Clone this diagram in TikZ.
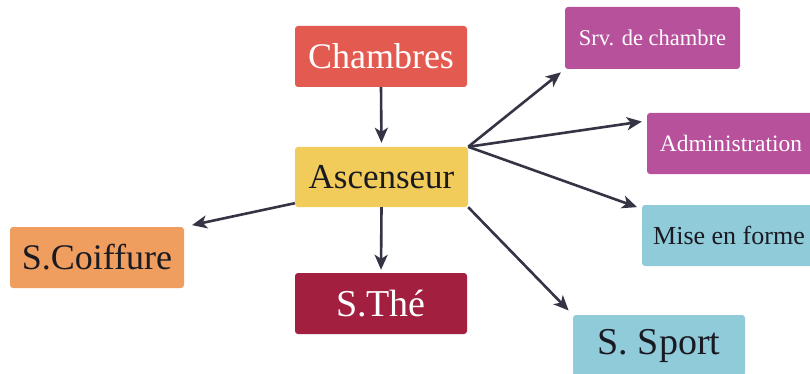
\documentclass[tikz,border=0pt]{standalone}
\usepackage{fontspec}
\setmainfont{Liberation Serif}
\usetikzlibrary{arrows.meta,calc}
\definecolor{cRed}{HTML}{E35A50}
\definecolor{cYellow}{HTML}{F2CC5A}
\definecolor{cMagenta}{HTML}{B8519B}
\definecolor{cBlue}{HTML}{90CBDA}
\definecolor{cOrange}{HTML}{EF9E5F}
\definecolor{cCrimson}{HTML}{A31F3F}
\definecolor{cArrow}{HTML}{343444}
\definecolor{cDark}{HTML}{1A1A22}
\begin{document}
\begin{tikzpicture}[x=1pt,y=-1pt,
  box/.style={rectangle,rounded corners=3pt,inner sep=0pt,minimum height=61pt},
  conn/.style={draw=cArrow,line width=2.6pt,-{Stealth[length=15pt,width=13pt,inset=4pt]}}]
\useasboundingbox (0,0) rectangle (810,374);
\node[box,fill=cRed,minimum width=172pt,text=white,font=\fontsize{36}{40}\selectfont] (cham) at (381,56.5) {Chambres};
\node[box,fill=cYellow,minimum width=173pt,minimum height=60pt,text=cDark,font=\fontsize{35}{40}\selectfont] (asc) at (381.5,177) {Ascenseur};
\node[box,fill=cMagenta,minimum width=175pt,minimum height=62pt,text=white,font=\fontsize{22.5}{25}\selectfont] (srv) at (652.5,38) {Srv. de chambre};
\node[box,fill=cMagenta,minimum width=168pt,text=white,font=\fontsize{23.5}{26}\selectfont] (adm) at (731,143.5) {Administration};
\node[box,fill=cBlue,minimum width=174pt,text=cDark,font=\fontsize{26}{28}\selectfont] (mise) at (729,235.5) {Mise en forme};
\node[box,fill=cOrange,minimum width=174pt,text=cDark,font=\fontsize{36}{40}\selectfont] (coif) at (97,257.5) {S.Coiffure};
\node[box,fill=cCrimson,minimum width=172pt,text=white,font=\fontsize{38}{42}\selectfont] (the) at (381,303.5) {S.Thé};
\node[box,fill=cBlue,minimum width=172pt,text=cDark,font=\fontsize{38}{42}\selectfont] (sport) at (659,345.5) {S. Sport};
\draw[conn,shorten >=4pt] (cham.south) -- (asc.north);
\draw[conn,shorten >=3pt] (asc.south) -- (the.north);
\draw[conn,shorten >=8pt] ([yshift=4pt]asc.south west) -- (coif.north east);
\draw[conn,shorten >=5pt] (asc.north east) -- (srv.south west);
\draw[conn,shorten >=5pt] (asc.north east) -- ([yshift=-8pt]adm.north west);
\draw[conn,shorten >=5pt] (asc.north east) -- ([yshift=-4pt]mise.north west);
\draw[conn,shorten >=6pt] (asc.south east) -- (sport.north west);
\end{tikzpicture}
\end{document}
